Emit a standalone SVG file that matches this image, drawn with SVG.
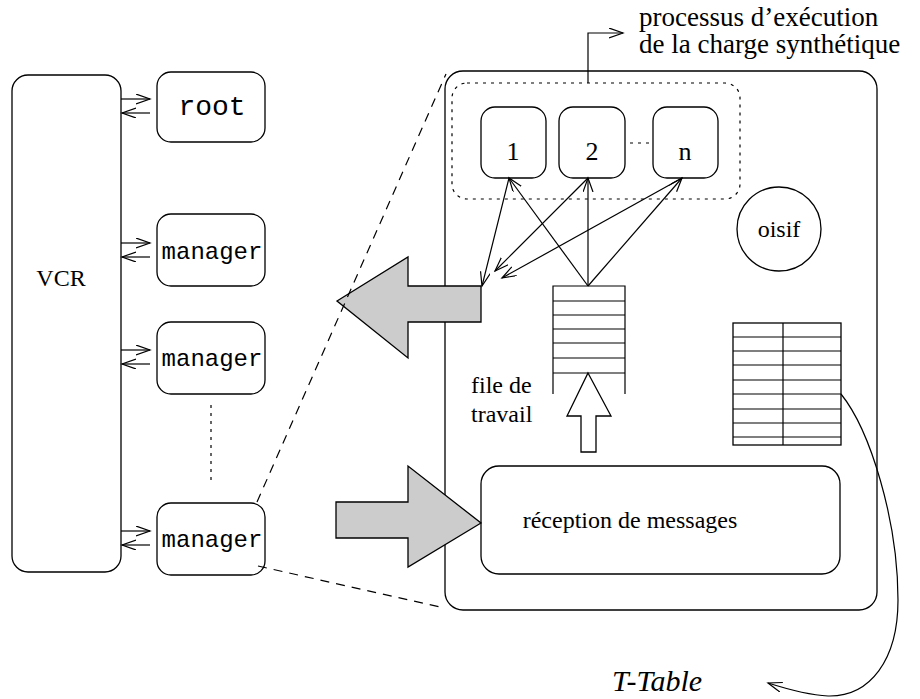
<svg xmlns="http://www.w3.org/2000/svg" width="920" height="699" viewBox="0 0 920 699">
<style>
.b{fill:#fff;stroke:#000;stroke-width:1.3}
.n{fill:none;stroke:#000;stroke-width:1.2}
.g{fill:#ccc;stroke:#000;stroke-width:1.3}
.t{font-family:"Liberation Serif","Times New Roman",serif;fill:#000}
.m{font-family:"Liberation Mono","Courier New",monospace;fill:#000}
.dot{fill:none;stroke:#000;stroke-width:1.2;stroke-dasharray:3,5}
.dash{fill:none;stroke:#000;stroke-width:1.2;stroke-dasharray:9,7}
</style>
<defs>
<marker id="a" markerUnits="userSpaceOnUse" markerWidth="16" markerHeight="12" refX="14" refY="5" orient="auto">
<path d="M0,0 L14,5 L0,10" fill="none" stroke="#000" stroke-width="1.2"/>
</marker>
</defs>
<rect width="920" height="699" fill="#fff"/>

<g id="vcr"><rect class="b" x="12" y="75" width="109" height="497" rx="16"/>
<text class="t" x="61" y="286" font-size="24" text-anchor="middle">VCR</text></g>

<g id="root"><rect class="b" x="157" y="72" width="108" height="70" rx="14"/>
<text class="m" x="212" y="115" font-size="28" text-anchor="middle">root</text></g>
<g id="manager1"><rect class="b" x="157" y="214" width="108" height="72" rx="14"/>
<text class="m" x="212" y="259" font-size="24" text-anchor="middle">manager</text></g>
<g id="manager2"><rect class="b" x="157" y="322" width="108" height="72" rx="14"/>
<text class="m" x="212" y="366" font-size="24" text-anchor="middle">manager</text></g>
<g id="manager3"><rect class="b" x="157" y="503" width="108" height="72" rx="14"/>
<text class="m" x="212" y="547" font-size="24" text-anchor="middle">manager</text></g>

<g id="host"><rect class="b" x="445" y="71" width="432" height="539" rx="18"/></g>
<g id="pool"><rect class="dot" x="452" y="83" width="288" height="116" rx="15"/></g>
<g id="p1"><rect class="b" x="481" y="107" width="65" height="71" rx="14"/>
<text class="t" x="513" y="160" font-size="26" text-anchor="middle">1</text></g>
<g id="p2"><rect class="b" x="559" y="107" width="66" height="71" rx="14"/>
<text class="t" x="592" y="160" font-size="26" text-anchor="middle">2</text></g>
<g id="pn"><rect class="b" x="653" y="107" width="65" height="71" rx="14"/>
<text class="t" x="685" y="160" font-size="26" text-anchor="middle">n</text></g>
<g id="oisif"><circle class="b" cx="779" cy="229" r="42"/>
<text class="t" x="779" y="237" font-size="24" text-anchor="middle">oisif</text></g>

<g id="queue">
<path class="n" d="M553,394 V286 H625 V394 M553,301 H625 M553,315 H625 M553,329 H625 M553,343 H625 M553,358 H625 M553,373 H625"/>
<text class="t" x="471" y="393" font-size="24">file de</text>
<text class="t" x="471" y="422" font-size="24">travail</text>
</g>
<g id="uparrow"><path class="b" d="M588,373 L611,416 H596 V452 H581 V416 H567 Z"/></g>

<g id="table">
<rect class="b" x="733" y="323" width="108" height="122"/>
<path class="n" d="M783,323 V445 M733,337 H841 M733,351 H841 M733,365 H841 M733,380 H841 M733,394 H841 M733,409 H841 M733,423 H841 M733,437 H841"/>
</g>

<g id="reception"><rect class="b" x="481" y="466" width="359" height="108" rx="18"/>
<text class="t" x="630" y="528" font-size="24" text-anchor="middle">réception de messages</text></g>

<g id="bigarrows">
<path class="g" d="M337,301 L408,257 V286 H481 V322 H408 V358 Z"/>
<path class="g" d="M336,502 H408 V466 L481,523 L408,567 V538 H336 Z"/>
</g>

<g id="labels">
<text class="t" x="639" y="26" font-size="27">processus d’exécution</text>
<text class="t" x="639" y="53" font-size="27">de la charge synthétique</text>
<text class="t" x="612" y="691" font-size="30" font-style="italic">T-Table</text>
</g>

<g id="connectors">
<line class="n" x1="121" y1="99" x2="150" y2="99" marker-end="url(#a)"/>
<line class="n" x1="150" y1="113" x2="122" y2="113" marker-end="url(#a)"/>
<line class="n" x1="121" y1="243" x2="150" y2="243" marker-end="url(#a)"/>
<line class="n" x1="150" y1="257" x2="122" y2="257" marker-end="url(#a)"/>
<line class="n" x1="121" y1="350" x2="150" y2="350" marker-end="url(#a)"/>
<line class="n" x1="150" y1="364" x2="122" y2="364" marker-end="url(#a)"/>
<line class="n" x1="121" y1="531" x2="150" y2="531" marker-end="url(#a)"/>
<line class="n" x1="150" y1="545" x2="122" y2="545" marker-end="url(#a)"/>
<line class="dot" x1="211" y1="405" x2="211" y2="482"/>
<line class="dot" x1="630" y1="143" x2="650" y2="143"/>
<line class="dash" x1="257" y1="502" x2="446" y2="74"/>
<line class="dash" x1="258" y1="566" x2="440" y2="607"/>
<polyline class="n" points="588,83 588,33 623,33" marker-end="url(#a)"/>
<line class="n" x1="588" y1="286" x2="509" y2="178" marker-end="url(#a)"/>
<line class="n" x1="588" y1="286" x2="588" y2="178" marker-end="url(#a)"/>
<line class="n" x1="588" y1="286" x2="682" y2="178" marker-end="url(#a)"/>
<line class="n" x1="509" y1="178" x2="482" y2="286" marker-end="url(#a)"/>
<line class="n" x1="588" y1="178" x2="495" y2="271" marker-end="url(#a)"/>
<line class="n" x1="682" y1="178" x2="502" y2="278" marker-end="url(#a)"/>
<path class="n" d="M841,394 C870,430 898,520 898,600 C898,660 870,697 828,696 C808,695 790,690 768,683" marker-end="url(#a)"/>
</g>
</svg>
